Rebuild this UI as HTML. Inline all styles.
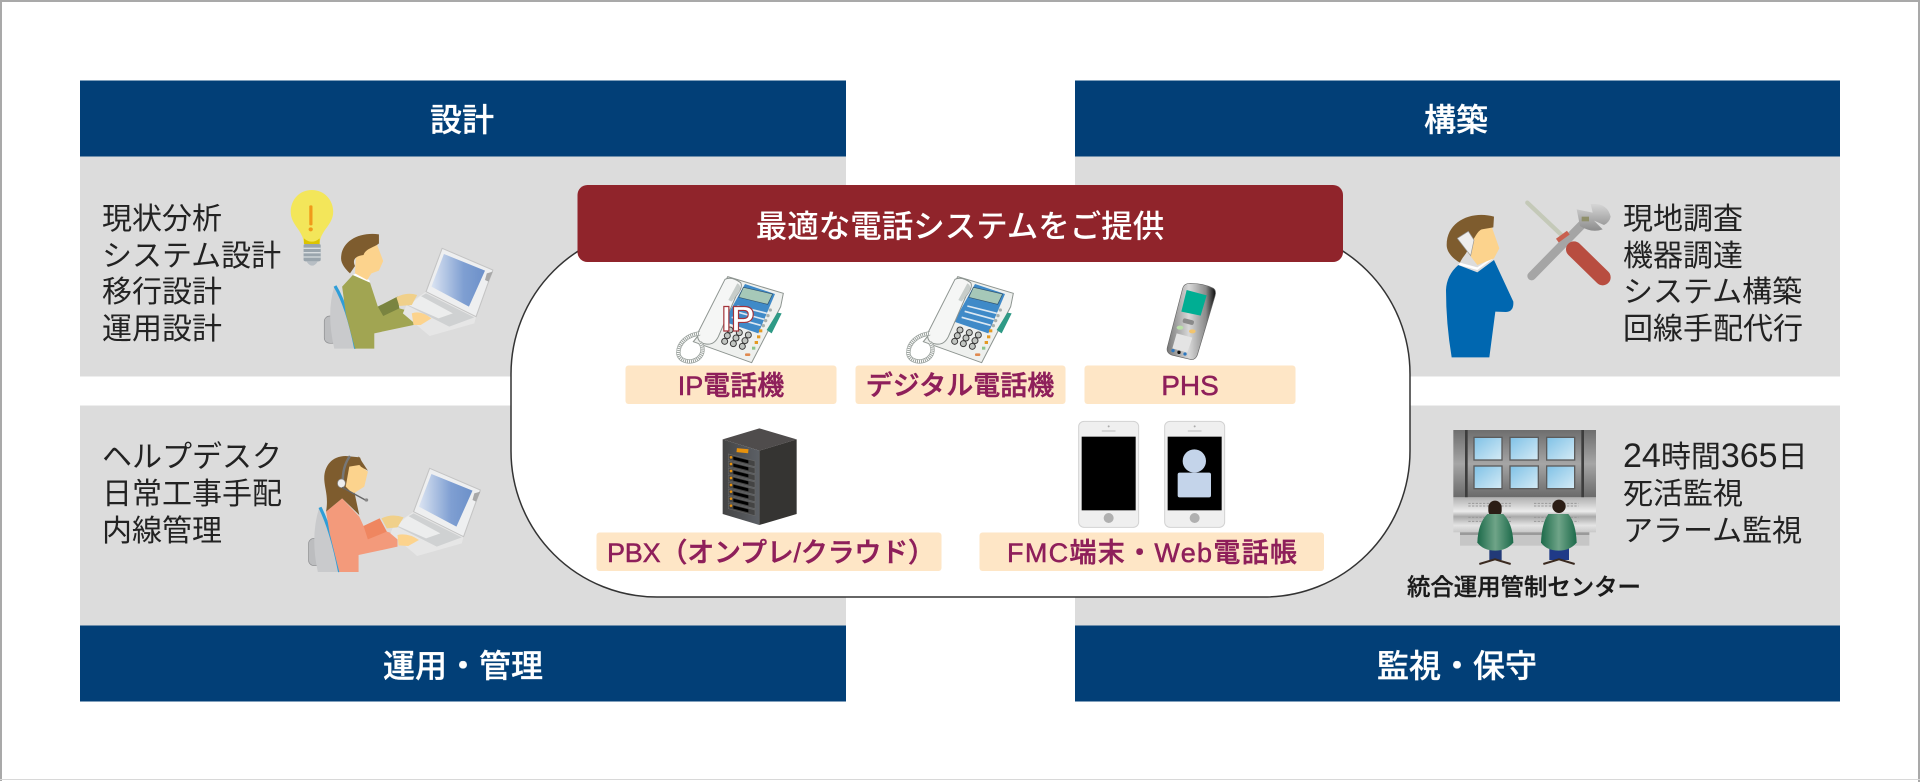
<!DOCTYPE html>
<html lang="ja"><head><meta charset="utf-8"><title>最適な電話システムをご提供</title>
<style>
html,body{margin:0;padding:0;background:#fff;width:1920px;height:782px;overflow:hidden}
svg{display:block}
text{font-family:"Liberation Sans","Noto Sans CJK JP",sans-serif}
.b{font-size:30px;fill:#222;font-family:"Noto Sans CJK JP","Liberation Sans",sans-serif;font-weight:400}
.d{font-family:"Liberation Sans",sans-serif;font-size:34px}
.h{font-size:32px;fill:#fff;font-weight:500;text-anchor:middle;font-family:"Liberation Sans","Noto Sans CJK JP",sans-serif;stroke:#fff;stroke-width:.3}
.l{font-size:27px;fill:#8e1f5a;stroke:#8e1f5a;stroke-width:.5;font-weight:500;text-anchor:middle}
</style></head><body>
<svg width="1920" height="782" viewBox="0 0 1920 782" xmlns="http://www.w3.org/2000/svg">
<defs>
<linearGradient id="scr" x1="0" x2="1" y1="0" y2="0"><stop offset="0" stop-color="#dbe4f2"/><stop offset=".6" stop-color="#7f9fd2"/><stop offset="1" stop-color="#6c90c9"/></linearGradient>
<linearGradient id="wall" x1="0" x2="0" y1="0" y2="1"><stop offset="0" stop-color="#6e6e6e"/><stop offset=".5" stop-color="#a5a5a5"/><stop offset="1" stop-color="#6a6a6a"/></linearGradient>
<linearGradient id="con" x1="0" x2="0" y1="0" y2="1"><stop offset="0" stop-color="#b0b0b0"/><stop offset=".4" stop-color="#ececec"/><stop offset=".55" stop-color="#a9a9a9"/><stop offset=".8" stop-color="#e4e4e4"/><stop offset="1" stop-color="#c8c8c8"/></linearGradient>
<linearGradient id="mon" x1="0" x2="1" y1="0" y2="1"><stop offset="0" stop-color="#7fc1e6"/><stop offset="1" stop-color="#d5ebf6"/></linearGradient>
<linearGradient id="grn" x1="0" x2="1" y1="0" y2="0"><stop offset="0" stop-color="#1c6a4a"/><stop offset=".5" stop-color="#6fa488"/><stop offset="1" stop-color="#1c6a4a"/></linearGradient>
<linearGradient id="phs" x1="0" x2="1" y1="0" y2="0"><stop offset="0" stop-color="#777"/><stop offset=".45" stop-color="#d8d8d8"/><stop offset=".8" stop-color="#8a8a8a"/><stop offset="1" stop-color="#0c0c0c"/></linearGradient>
<linearGradient id="srv" x1="0" x2="1" y1="0" y2="0"><stop offset="0" stop-color="#444"/><stop offset="1" stop-color="#5c6066"/></linearGradient>
<linearGradient id="wr" x1="0" x2="0" y1="0" y2="1"><stop offset="0" stop-color="#d6d6d6"/><stop offset="1" stop-color="#8c8c8c"/></linearGradient>

<g id="laptop">
  <polygon points="1025,695 1165,770 1160,790 1035,828 960,760 970,735" fill="#e6e6e6"/>
  <polygon points="1070,565 1212,630 1200,665 1165,770 1025,695" fill="#eeeff0" stroke="#c4c4c4" stroke-width="3"/>
  <polygon points="1075,582 1190,632 1145,740 1040,680" fill="url(#scr)"/>
  <polygon points="1025,700 1160,772 1090,800 970,735" fill="#cfd1d2"/>
  <polygon points="1010,708 1100,760 1060,775 975,735" fill="#eceded"/>
  <polygon points="1195,640 1212,635 1200,665 1190,660" fill="#a8a8a8"/>
</g>

<g id="phone">
  <polygon points="683,320 850,370 842,410 755,578 580,515 600,490" fill="#eef0ee" stroke="#8d9490" stroke-width="3"/>
  <polygon points="832,428 845,430 815,490 800,480" fill="#2e9a86"/>
  <polygon points="735,342 825,372 775,490 672,455" fill="#3f8ac8"/>
  <polygon points="730,352 818,372 803,403 716,382" fill="#a6c8b8" stroke="#31536f" stroke-width="2"/>
  <path d="M712 408 L800 430 M704 424 L792 448 M695 442 L782 466" stroke="#dce8f2" stroke-width="5"/>
  <g fill="#c2c6c2" stroke="#3a3a3a" stroke-width="3">
    <circle cx="690" cy="480" r="9"/><circle cx="718" cy="488" r="9"/><circle cx="745" cy="495" r="9"/>
    <circle cx="682" cy="497" r="9"/><circle cx="708" cy="504" r="9"/><circle cx="735" cy="512" r="9"/>
    <circle cx="674" cy="514" r="9"/><circle cx="700" cy="521" r="9"/><circle cx="727" cy="529" r="9"/>
  </g>
  <g fill="#e49a22"><rect x="777" y="478" width="10" height="9"/><rect x="771" y="496" width="10" height="9"/><rect x="764" y="513" width="10" height="9"/></g>
  <rect x="756" y="530" width="10" height="9" fill="#8cc48c"/>
  <rect x="735" y="550" width="16" height="8" rx="3" fill="#e08a50"/>
  <g fill="#a9b0ac"><circle cx="811" cy="420" r="5"/><circle cx="804" cy="437" r="5"/><circle cx="797" cy="452" r="5"/><circle cx="790" cy="467" r="5"/></g>
  <path d="M675 328 Q695 318 722 338 Q730 352 708 378 L655 500 Q642 526 618 522 Q588 518 594 488 Z" fill="#f5f6f5" stroke="#8d9490" stroke-width="3"/>
  <path d="M712 340 Q725 345 718 365 L695 395 L685 390 Z" fill="#c7cdca"/>
  <path d="M600 490 C560 495 535 520 535 548 C535 575 575 582 595 565 C612 550 610 530 600 518" fill="none" stroke="#9aa19d" stroke-width="13"/>
  <path d="M600 490 C560 495 535 520 535 548 C535 575 575 582 595 565 C612 550 610 530 600 518" fill="none" stroke="#fff" stroke-width="9" stroke-dasharray="3 3"/>
</g>

<g id="smart">
  <rect x="356" y="64" width="180" height="318" rx="16" fill="#efefef" stroke="#d2d2d2" stroke-width="3"/>
  <rect x="365" y="110" width="162" height="221" fill="#000"/>
  <circle cx="446" cy="354" r="15" fill="#b0b0b0"/>
  <circle cx="446" cy="79" r="3" fill="#aaa"/>
  <rect x="425" y="91" width="42" height="4" rx="2" fill="#c6c6c6"/>
</g>
</defs>

<rect width="1920" height="782" fill="#fff"/>
<path d="M1 781V1H1919V782" fill="none" stroke="#a9a9a9" stroke-width="2"/>
<rect x="0" y="779" width="1920" height="1" fill="#d8d8d8"/>

<!-- panels -->
<rect x="80" y="156" width="766" height="220.500" fill="#dcdcdc"/>
<rect x="80" y="405.500" width="766" height="220" fill="#dcdcdc"/>
<rect x="1075" y="156" width="765" height="220.500" fill="#dcdcdc"/>
<rect x="1075" y="405.500" width="765" height="220" fill="#dcdcdc"/>
<rect x="80" y="80.500" width="766" height="76" fill="#023f77"/>
<rect x="1075" y="80.500" width="765" height="76" fill="#023f77"/>
<rect x="80" y="625.500" width="766" height="76" fill="#023f77"/>
<rect x="1075" y="625.500" width="765" height="76" fill="#023f77"/>

<text class="h" x="462" y="131">設計</text>
<text class="h" x="1456" y="131">構築</text>
<text class="h" x="463" y="677" textLength="160" lengthAdjust="spacing">運用・管理</text>
<text class="h" x="1457" y="677" textLength="160" lengthAdjust="spacing">監視・保守</text>

<!-- left top text -->
<text class="b" x="102" y="229">現状分析</text>
<text class="b" x="102" y="266">システム設計</text>
<text class="b" x="102" y="302">移行設計</text>
<text class="b" x="102" y="339">運用設計</text>
<!-- left bottom text -->
<text class="b" x="102" y="467">ヘルプデスク</text>
<text class="b" x="102" y="504">日常工事手配</text>
<text class="b" x="102" y="541">内線管理</text>
<!-- right top text -->
<text class="b" x="1623" y="229">現地調査</text>
<text class="b" x="1623" y="266">機器調達</text>
<text class="b" x="1623" y="302">システム構築</text>
<text class="b" x="1623" y="339">回線手配代行</text>
<!-- right bottom text -->
<text class="b" x="1623" y="467"><tspan class="d">24</tspan>時間<tspan class="d">365</tspan>日</text>
<text class="b" x="1623" y="504">死活監視</text>
<text class="b" x="1623" y="541">アラーム監視</text>

<text x="1407" y="595" font-size="23.400" font-weight="500" fill="#1a1a1a" stroke="#1a1a1a" stroke-width=".35">統合運用管制センター</text>

<!-- central rounded box -->
<rect x="511" y="228" width="899" height="369" rx="146" ry="146" fill="#fff" stroke="#333" stroke-width="1.500"/>
<rect x="577.500" y="185" width="765.500" height="77" rx="10" fill="#90242b"/>
<text x="960" y="237" font-size="31.500" font-weight="500" fill="#fff" text-anchor="middle">最適な電話システムをご提供</text>

<!-- labels -->
<g fill="#fee6c6">
<rect x="625.500" y="365.500" width="211" height="38.500" rx="3"/>
<rect x="855.500" y="365.500" width="210" height="38.500" rx="3"/>
<rect x="1084.500" y="365.500" width="211" height="38.500" rx="3"/>
<rect x="596.500" y="532.500" width="345" height="38.500" rx="3"/>
<rect x="979.500" y="532.500" width="344.500" height="38.500" rx="3"/>
</g>
<text class="l" x="731" y="395">IP電話機</text>
<text class="l" x="960" y="395">デジタル電話機</text>
<text class="l" x="1190" y="395" font-size="28" style="font-size:28px">PHS</text>
<text class="l" x="771" y="562" textLength="328" lengthAdjust="spacing">PBX（オンプレ/クラウド）</text>
<text class="l" x="1152" y="562" textLength="290" lengthAdjust="spacing">FMC端末・Web電話帳</text>

<!-- IP phones -->
<g transform="translate(500 170) scale(.33333)"><use href="#phone"/></g>
<g transform="translate(730 170) scale(.33333)"><use href="#phone"/></g>
<text x="738" y="331" font-size="35" font-weight="700" fill="#fff" stroke="#a3343b" stroke-width="1.200" text-anchor="middle">IP</text>

<!-- PHS -->
<g transform="translate(960 170) scale(.33333)">
  <path d="M690 340 Q730 340 760 355 Q770 362 765 378 L712 555 Q705 572 690 568 L635 555 Q618 548 622 532 L668 355 Q672 340 690 340Z" fill="url(#phs)" stroke="#666" stroke-width="2"/>
  <polygon points="680,360 740,376 722,437 664,425" fill="#00ae93"/>
  <rect x="668" y="448" width="34" height="14" rx="6" fill="#8a8a8a" transform="rotate(14 685 455)"/>
  <ellipse cx="660" cy="473" rx="10" ry="6" fill="#b9e0a8"/><ellipse cx="697" cy="484" rx="10" ry="6" fill="#f2c46e"/>
  <polygon points="650,490 697,503 682,548 637,535" fill="#e4e4e4"/>
  <circle cx="639" cy="542" r="5" fill="#2d78c0"/><circle cx="657" cy="547" r="5" fill="#111"/><circle cx="675" cy="552" r="5" fill="#2d78c0"/>
</g>

<!-- server -->
<g transform="translate(500 400) scale(.33333)">
  <polygon points="668,118 778,85 890,118 778,152" fill="#4f4c4c"/>
  <polygon points="668,118 778,152 778,375 668,342" fill="url(#srv)"/>
  <polygon points="778,152 890,118 890,342 778,375" fill="#353432"/>
  <rect x="710" y="146" width="35" height="12" fill="#e8920c" transform="rotate(6 727 152)"/>
  <g stroke="#666" stroke-width="2">
    <polygon points="685,162 765,183 765,200 685,179" fill="#444"/><polygon points="700,170 745,181 745,190 700,179" fill="#000" stroke="none"/>
    <polygon points="685,183 765,204 765,221 685,200" fill="#444"/><polygon points="700,191 745,202 745,211 700,200" fill="#000" stroke="none"/>
    <polygon points="685,204 765,225 765,242 685,221" fill="#444"/><polygon points="700,212 745,223 745,232 700,221" fill="#000" stroke="none"/>
    <polygon points="685,225 765,246 765,263 685,242" fill="#444"/><polygon points="700,233 745,244 745,253 700,242" fill="#000" stroke="none"/>
    <polygon points="685,246 765,267 765,284 685,263" fill="#444"/><polygon points="700,254 745,265 745,274 700,263" fill="#000" stroke="none"/>
    <polygon points="685,267 765,288 765,305 685,284" fill="#444"/><polygon points="700,275 745,286 745,295 700,284" fill="#000" stroke="none"/>
    <polygon points="685,288 765,309 765,326 685,305" fill="#444"/><polygon points="700,296 745,307 745,316 700,305" fill="#000" stroke="none"/>
    <polygon points="685,309 765,330 765,347 685,326" fill="#444"/><polygon points="700,317 745,328 745,337 700,326" fill="#000" stroke="none"/>
  </g>
  <g fill="#e8920c"><circle cx="693" cy="172" r="4"/><circle cx="693" cy="192" r="4"/><circle cx="693" cy="213" r="4"/><circle cx="693" cy="234" r="4"/><circle cx="693" cy="255" r="4"/><circle cx="693" cy="275" r="4"/><circle cx="693" cy="296" r="4"/><circle cx="693" cy="317" r="4"/></g>
</g>

<!-- smartphones -->
<g transform="translate(960 400) scale(.33333)">
  <use href="#smart"/>
  <use href="#smart" x="258"/>
  <circle cx="703" cy="183" r="35" fill="#c4d4ea"/>
  <rect x="653" y="218" width="100" height="74" rx="6" fill="#c4d4ea"/>
</g>

<!-- bulb + man -->
<g transform="translate(60 60) scale(.35714 .33333)">
  <path d="M705 390 C670 390 646 420 646 455 C646 495 680 510 683 550 L727 550 C730 510 765 495 765 455 C765 420 740 390 705 390Z" fill="#f3e65a"/>
  <path d="M683 535 Q705 555 727 535 L727 552 L683 552Z" fill="#dcc400"/>
  <rect x="682" y="552" width="48" height="52" rx="5" fill="#9aa5ad"/>
  <path d="M682 565H730M682 578H730M682 591H730" stroke="#d8dde0" stroke-width="4"/>
  <path d="M690 604 Q706 630 722 604Z" fill="#b7bec4"/>
  <rect x="698" y="436" width="9" height="60" rx="3" fill="#f09a1a"/><circle cx="702" cy="508" r="6" fill="#f09a1a"/>
  <!-- chair -->
  <rect x="740" y="768" width="38" height="82" rx="16" fill="#bcbdbf" stroke="#8f9092" stroke-width="2"/>
  <path d="M768 680 Q800 740 830 866 L768 866 Q745 760 768 680Z" fill="#c9cacc"/>
  <path d="M770 678 Q805 740 828 866" fill="none" stroke="#2f9ed8" stroke-width="9"/>
  <!-- body -->
  <polygon points="790,680 820,645 868,668 890,740 945,710 950,745 985,755 990,795 880,820 880,866 826,866 800,760" fill="#a1a552"/>
  <polygon points="890,740 945,710 950,745 905,768" fill="#7a8440"/>
  <path d="M820 645 L868 668 L866 660 L828 640Z" fill="#fff"/>
  <!-- head -->
  <path d="M826 640 L860 660 L872 640 L893 632 L905 603 L888 555 L830 560Z" fill="#fcd38d"/>
  <path d="M893 523 C835 515 787 545 787 595 C787 612 800 628 812 640 L826 618 C818 600 826 588 850 585 C855 565 885 560 893 550Z" fill="#7e5c2e"/>
  <!-- laptop + hands -->
  <use href="#laptop"/>
  <path d="M942 712 Q970 695 1000 705 L985 735 L950 738Z" fill="#f0d08a"/>
  <path d="M985 760 Q1010 750 1040 775 L1010 795 L990 795Z" fill="#fcd38d"/>
</g>

<!-- woman -->
<g transform="translate(60 400) scale(.35714 .33333)">
  <rect x="696" y="415" width="38" height="82" rx="16" fill="#bcbdbf" stroke="#8f9092" stroke-width="2"/>
  <path d="M726 322 Q755 390 785 516 L722 516 Q700 410 726 322Z" fill="#c9cacc"/>
  <path d="M728 322 Q760 390 783 516" fill="none" stroke="#2f9ed8" stroke-width="9"/>
  <polygon points="745,335 790,295 838,350 850,378 895,355 915,395 945,405 945,440 836,465 836,516 782,516 755,400" fill="#f39a7b"/>
  <polygon points="850,378 895,355 915,395 862,418" fill="#ef8660"/>
  <path d="M800 168 C760 168 738 200 740 240 C742 270 752 290 745 335 L790 295 L838 345 L825 280 L855 215 L840 172Z" fill="#7e5c2e"/>
  <path d="M810 200 L838 195 L862 215 L852 260 L820 282 L800 260Z" fill="#fcd38d"/>
  <path d="M835 168 L862 212 L842 200Z" fill="#7e5c2e"/>
  <path d="M812 168 Q790 200 792 250" fill="none" stroke="#777" stroke-width="7"/>
  <ellipse cx="788" cy="250" rx="11" ry="13" fill="#eee" stroke="#888" stroke-width="2"/>
  <path d="M790 262 L855 300" stroke="#666" stroke-width="4"/><circle cx="858" cy="300" r="5" fill="#888"/>
  <g transform="translate(-35 -360)"><use href="#laptop"/></g>
  <path d="M900 355 Q930 340 962 352 L945 382 L915 385Z" fill="#f0d08a"/>
  <path d="M945 405 Q975 398 1005 420 L975 438 L948 436Z" fill="#fcd38d"/>
</g>

<!-- right man and tools -->
<g transform="translate(1400 190) scale(.33333)">
  <path d="M175 225 L232 247 L282 210 L340 335 Q342 365 318 366 L286 365 L268 502 L155 502 Q138 400 138 300 Q140 255 175 225Z" fill="#0067b0"/>
  <polygon points="175,225 232,240 278,207 272,205 232,232 180,218" fill="#fff"/>
  <path d="M180 125 L275 110 L298 175 L282 205 L232 225 L205 190Z" fill="#fcd38d"/>
  <path d="M282 80 C220 62 140 90 140 165 C140 190 165 210 180 218 C190 195 205 190 205 165 C222 155 228 125 245 118 L280 112Z" fill="#7e5c2e"/>
  <polygon points="172,145 205,124 222,150 212,197" fill="#eee" stroke="#999" stroke-width="2"/>
  <!-- screwdriver shaft -->
  <path d="M382 38 L492 142" stroke="#c4c9b8" stroke-width="13" stroke-linecap="round"/>
  <!-- wrench -->
  <path d="M395 258 L548 102" stroke="#a5a5a5" stroke-width="26" stroke-linecap="round"/>
  <path d="M530 58 L578 68 L572 42 Q622 38 632 80 Q628 98 612 105 L582 92 L608 118 Q575 130 540 108Z" fill="url(#wr)"/>
  <rect x="545" y="80" width="22" height="14" fill="#8f8f6a"/>
  <!-- ferrule & handle -->
  <path d="M472 152 L505 128" stroke="#c9604f" stroke-width="14"/>
  <path d="M522 178 L608 262" stroke="#b84d40" stroke-width="48" stroke-linecap="round"/>
</g>

<!-- control center -->
<g transform="translate(1400 410) scale(.33333)">
  <rect x="160" y="60" width="428" height="202" fill="url(#wall)"/>
  <rect x="195" y="60" width="8" height="202" fill="#3d3d3d"/><rect x="544" y="60" width="8" height="202" fill="#3d3d3d"/>
  <g fill="url(#mon)" stroke="#5c5c5c" stroke-width="4">
    <rect x="222" y="82" width="84" height="68"/><rect x="330" y="82" width="85" height="68"/><rect x="440" y="82" width="84" height="68"/>
    <rect x="222" y="168" width="84" height="68"/><rect x="330" y="168" width="85" height="68"/><rect x="440" y="168" width="84" height="68"/>
  </g>
  <rect x="160" y="262" width="428" height="105" fill="url(#con)"/>
  <rect x="180" y="367" width="388" height="40" fill="#c6c6c6"/>
  <rect x="180" y="367" width="388" height="8" fill="#9a9a9a"/>
  <path d="M205 280H335M205 288H335M205 322H335M205 334H335M402 280H535M402 288H535M402 322H535M402 334H535" stroke="#999" stroke-width="3" stroke-dasharray="7 4"/>
  <!-- person 1 -->
  <path d="M268 420L268 450L305 450L305 420Z" fill="#223a78"/>
  <path d="M238 462L285 448L332 462" fill="none" stroke="#3a2a20" stroke-width="6"/>
  <rect x="265" y="272" width="40" height="50" rx="20" fill="#2b1d15"/>
  <path d="M262 312 L310 312 Q338 340 340 398 Q320 422 286 422 Q250 422 232 398 Q234 340 262 312Z" fill="url(#grn)"/>
  <!-- person 2 -->
  <path d="M448 415L448 450L507 450L507 415Z" fill="#1f3a88"/>
  <path d="M430 462L477 448L524 462" fill="none" stroke="#3a2a20" stroke-width="6"/>
  <circle cx="477" cy="289" r="20" fill="#2b1d15"/>
  <path d="M445 312 L505 312 Q528 340 530 398 Q510 422 476 422 Q440 422 423 398 Q425 340 445 312Z" fill="url(#grn)"/>
</g>
</svg>
</body></html>
